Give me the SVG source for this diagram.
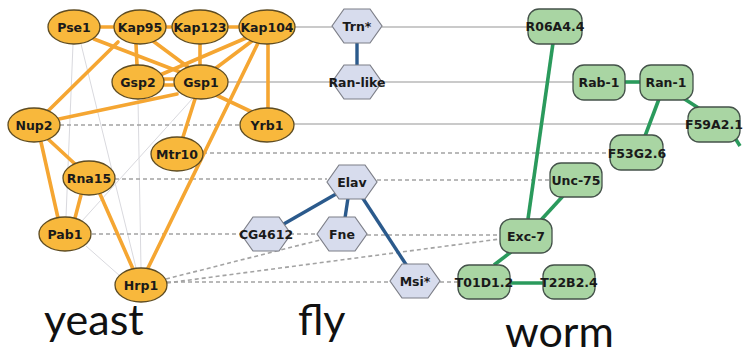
<svg xmlns="http://www.w3.org/2000/svg" width="744" height="357" viewBox="0 0 744 357">
  <defs>
    <style>
      .bg { fill: #ffffff; }
      .faint { stroke: #d9d9de; stroke-width: 1; fill: none; }
      .xs { stroke: #b8b8b8; stroke-width: 1.6; fill: none; }
      .xd { stroke: #a3a3a3; stroke-width: 1.6; stroke-dasharray: 4 3; fill: none; }
      .ye { stroke: #f5a632; stroke-width: 3.6; fill: none; stroke-linecap: round; }
      .fe { stroke: #2b5a8c; stroke-width: 3.4; fill: none; }
      .we { stroke: #2a9a5c; stroke-width: 3.6; fill: none; }
      .yn { fill: #f8b83c; stroke: #5e4c22; stroke-width: 1.3; }
      .fn { fill: #d7dced; stroke: #7d7f88; stroke-width: 1.2; }
      .wn { fill: #a9d5a3; stroke: #44524a; stroke-width: 1.3; }
      .lbl { font-family: "DejaVu Sans", "Liberation Sans", sans-serif; font-weight: bold; font-size: 12.5px; fill: #1a1a1a; text-anchor: middle; dominant-baseline: central; }
      .sp { font-family: "Lato", "Open Sans", sans-serif; font-size: 43px; fill: #111111; }
    </style>
    <polygon id="hex" points="-25,0 -13,-17 13,-17 25,0 13,17 -13,17"/>
  </defs>

  <rect class="bg" x="0" y="0" width="744" height="357"/>

  <!-- connectors -->
  <g id="edges">
    <!-- faint yeast links -->
    <line class="faint" x1="73" y1="44" x2="66" y2="217"/>
    <line class="faint" x1="81" y1="44" x2="136" y2="268"/>
    <line class="faint" x1="138" y1="99" x2="141" y2="268"/>
    <line class="faint" x1="193" y1="98" x2="82" y2="221"/>
    <line class="faint" x1="86" y1="246" x2="120" y2="276"/>

    <!-- cross-species solid links -->
    <line class="xs" x1="294" y1="27" x2="332" y2="27"/>
    <line class="xs" x1="382" y1="27" x2="528" y2="27"/>
    <line class="xs" x1="228" y1="82" x2="332" y2="82"/>
    <line class="xs" x1="382" y1="82" x2="573" y2="82"/>
    <line class="xs" x1="294" y1="124" x2="688" y2="124"/>

    <!-- cross-species dashed links -->
    <line class="xd" x1="60" y1="125" x2="240" y2="125"/>
    <line class="xd" x1="203" y1="153" x2="612" y2="153"/>
    <line class="xd" x1="115" y1="179" x2="327" y2="179"/>
    <line class="xd" x1="377" y1="180" x2="550" y2="180"/>
    <line class="xd" x1="92" y1="234" x2="240" y2="234"/>
    <line class="xd" x1="290" y1="234" x2="317" y2="234"/>
    <line class="xd" x1="367" y1="235" x2="500" y2="235"/>
    <line class="xd" x1="167" y1="282" x2="390" y2="282"/>
    <line class="xd" x1="440" y1="282" x2="458" y2="282"/>
    <line class="xd" x1="166" y1="279" x2="320" y2="240"/>
    <line class="xd" x1="167" y1="283" x2="500" y2="239"/>

    <!-- yeast interactions -->
    <line class="ye" x1="100" y1="27" x2="115" y2="27"/>
    <line class="ye" x1="166" y1="27" x2="171" y2="27"/>
    <line class="ye" x1="229" y1="27" x2="239" y2="27"/>
    <line class="ye" x1="94" y1="39" x2="180" y2="72"/>
    <line class="ye" x1="136" y1="44" x2="137" y2="65"/>
    <line class="ye" x1="153" y1="41" x2="188" y2="67"/>
    <line class="ye" x1="118" y1="42" x2="48" y2="111"/>
    <line class="ye" x1="200" y1="44" x2="200" y2="65"/>
    <line class="ye" x1="246" y1="38" x2="160" y2="75"/>
    <line class="ye" x1="252" y1="41" x2="216" y2="68"/>
    <line class="ye" x1="268" y1="44" x2="268" y2="108"/>
    <line class="ye" x1="258" y1="43" x2="148" y2="268"/>
    <line class="ye" x1="216" y1="95" x2="252" y2="112"/>
    <line class="ye" x1="195" y1="99" x2="183" y2="137"/>
    <line class="ye" x1="164" y1="79" x2="175" y2="79"/>
    <line class="ye" x1="164" y1="85" x2="175" y2="85"/>
    <line class="ye" x1="59" y1="119" x2="177" y2="94"/>
    <line class="ye" x1="48" y1="139" x2="75" y2="164"/>
    <line class="ye" x1="41" y1="142" x2="58" y2="218"/>
    <line class="ye" x1="81" y1="195" x2="75" y2="218"/>
    <line class="ye" x1="100" y1="194" x2="133" y2="269"/>

    <!-- fly interactions -->
    <line class="fe" x1="357" y1="43" x2="357" y2="65"/>
    <line class="fe" x1="336" y1="194" x2="282" y2="225"/>
    <line class="fe" x1="348" y1="198" x2="345" y2="218"/>
    <line class="fe" x1="362" y1="197" x2="407" y2="266"/>

    <!-- worm interactions -->
    <line class="we" x1="553" y1="43" x2="528" y2="219"/>
    <line class="we" x1="625" y1="82" x2="640" y2="82"/>
    <line class="we" x1="683" y1="98" x2="700" y2="109"/>
    <line class="we" x1="659" y1="99" x2="645" y2="136"/>
    <line class="we" x1="563" y1="196" x2="541" y2="220"/>
    <line class="we" x1="511" y1="252" x2="494" y2="265"/>
    <line class="we" x1="510" y1="283" x2="543" y2="283"/>
    <line class="we" x1="735" y1="138" x2="740" y2="146"/>
  </g>

  <!-- yeast proteins -->
  <g id="Pse1"><ellipse class="yn" cx="74" cy="27" rx="26" ry="17"/><text class="lbl" x="74" y="27">Pse1</text></g>
  <g id="Kap95"><ellipse class="yn" cx="140" cy="27" rx="26" ry="17"/><text class="lbl" x="140" y="27">Kap95</text></g>
  <g id="Kap123"><ellipse class="yn" cx="200" cy="27" rx="28" ry="17"/><text class="lbl" x="200" y="27">Kap123</text></g>
  <g id="Kap104"><ellipse class="yn" cx="267" cy="27" rx="28" ry="17"/><text class="lbl" x="267" y="27">Kap104</text></g>
  <g id="Gsp2"><ellipse class="yn" cx="138" cy="82" rx="26" ry="17"/><text class="lbl" x="138" y="82">Gsp2</text></g>
  <g id="Gsp1"><ellipse class="yn" cx="201" cy="82" rx="27" ry="17"/><text class="lbl" x="201" y="82">Gsp1</text></g>
  <g id="Nup2"><ellipse class="yn" cx="34" cy="125" rx="26" ry="17"/><text class="lbl" x="34" y="125">Nup2</text></g>
  <g id="Yrb1"><ellipse class="yn" cx="267" cy="125" rx="27" ry="17"/><text class="lbl" x="267" y="125">Yrb1</text></g>
  <g id="Mtr10"><ellipse class="yn" cx="177" cy="154" rx="26" ry="17"/><text class="lbl" x="177" y="154">Mtr10</text></g>
  <g id="Rna15"><ellipse class="yn" cx="89" cy="178" rx="26" ry="17"/><text class="lbl" x="89" y="178">Rna15</text></g>
  <g id="Pab1"><ellipse class="yn" cx="65" cy="234" rx="26" ry="17"/><text class="lbl" x="65" y="234">Pab1</text></g>
  <g id="Hrp1"><ellipse class="yn" cx="141" cy="285" rx="26" ry="17"/><text class="lbl" x="141" y="285">Hrp1</text></g>

  <!-- fly proteins -->
  <g id="Trn"><use href="#hex" class="fn" x="357" y="26"/><text class="lbl" x="357" y="26">Trn*</text></g>
  <g id="Ran-like"><use href="#hex" class="fn" x="357" y="82"/><text class="lbl" x="357" y="82">Ran-like</text></g>
  <g id="Elav"><use href="#hex" class="fn" x="352" y="182"/><text class="lbl" x="352" y="182">Elav</text></g>
  <g id="CG4612"><use href="#hex" class="fn" x="266" y="234"/><text class="lbl" x="266" y="234">CG4612</text></g>
  <g id="Fne"><use href="#hex" class="fn" x="342" y="234"/><text class="lbl" x="342" y="234">Fne</text></g>
  <g id="Msi"><use href="#hex" class="fn" x="415" y="281"/><text class="lbl" x="415" y="281">Msi*</text></g>

  <!-- worm proteins -->
  <g id="R06A4.4"><rect class="wn" x="528" y="9" width="54" height="35" rx="11"/><text class="lbl" x="555" y="26">R06A4.4</text></g>
  <g id="Rab-1"><rect class="wn" x="573" y="65" width="52" height="35" rx="11"/><text class="lbl" x="599" y="82">Rab-1</text></g>
  <g id="Ran-1"><rect class="wn" x="640" y="65" width="53" height="35" rx="11"/><text class="lbl" x="666" y="82">Ran-1</text></g>
  <g id="F59A2.1"><rect class="wn" x="688" y="107" width="52" height="35" rx="11"/><text class="lbl" x="714" y="124">F59A2.1</text></g>
  <g id="F53G2.6"><rect class="wn" x="610" y="135" width="53" height="35" rx="11"/><text class="lbl" x="637" y="153">F53G2.6</text></g>
  <g id="Unc-75"><rect class="wn" x="550" y="163" width="52" height="34" rx="11"/><text class="lbl" x="576" y="180">Unc-75</text></g>
  <g id="Exc-7"><rect class="wn" x="500" y="219" width="52" height="34" rx="11"/><text class="lbl" x="526" y="236">Exc-7</text></g>
  <g id="T01D1.2"><rect class="wn" x="458" y="265" width="52" height="34" rx="11"/><text class="lbl" x="484" y="282">T01D1.2</text></g>
  <g id="T22B2.4"><rect class="wn" x="543" y="265" width="52" height="34" rx="11"/><text class="lbl" x="569" y="282">T22B2.4</text></g>

  <!-- species captions -->
  <g id="labels">
    <text class="sp" x="44" y="335">yeast</text>
    <text class="sp" x="298" y="335">fly</text>
    <text class="sp" x="505" y="347">worm</text>
  </g>
</svg>
